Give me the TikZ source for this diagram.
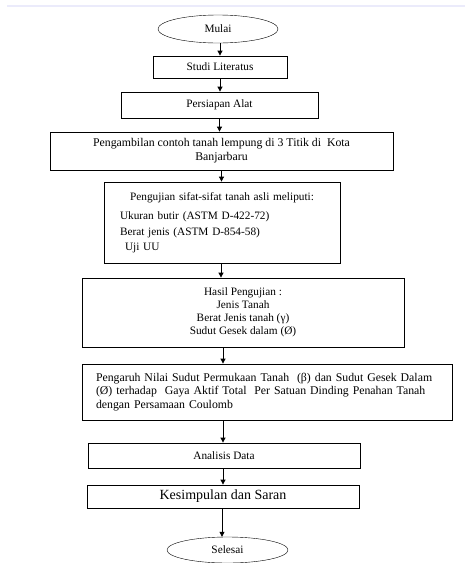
\documentclass[tikz,border=0pt]{standalone}
\usepackage{fontspec}
\setmainfont{Liberation Serif}
\usetikzlibrary{arrows.meta}
\usetikzlibrary{shapes.geometric}

\begin{document}
\begin{tikzpicture}[x=1pt, y=-1pt,
    every node/.style={draw, thick, inner sep=0pt, font=\fontsize{11.3}{13}\selectfont},
    oval/.style={ellipse, minimum width=120pt, minimum height=28pt, thin},
    box/.style={rectangle, minimum height=24pt},
    arr/.style={-{Triangle[length=5pt, width=5pt]}, thick}]
    \useasboundingbox (0,0) rectangle (465,563);
    \draw[draw=black!18!blue!8!white, line width=2pt] (7,6) -- (465,6);

    \node[oval] (mulai) at (218,29) {Mulai};
    \node[box, minimum width=134pt, minimum height=22pt] (studi) at (220,67) {Studi Literatus};
    \node[box, minimum width=197pt, minimum height=26pt] (alat) at (219.5,105) {Persiapan Alat};
    \node[box, minimum width=343pt, minimum height=38pt, align=center,
          font=\fontsize{11.8}{14}\selectfont] (ambil) at (221.5,151)
        {Pengambilan contoh tanah lempung di 3 Titik di~ Kota\\Banjarbaru};
    \node[box, text width=204pt, minimum height=81pt, inner xsep=16pt, align=left,
          font=\fontsize{11.3}{15.5}\selectfont] (uji) at (222,222.5)
        {\makebox[\linewidth]{Pengujian sifat-sifat tanah asli meliputi:}\\[4pt]
         Ukuran butir (ASTM D-422-72)\\
         Berat jenis (ASTM D-854-58)\\
         \hspace{5pt}Uji UU};
    \node[box, minimum width=322pt, minimum height=69pt, align=center] (hasil) at (243,312.5)
        {Hasil Pengujian :\\Jenis Tanah\\Berat Jenis tanah (γ)\\Sudut Gesek dalam (Ø)};
    \node[box, text width=342pt, minimum height=56pt, inner xsep=14pt, align=left,
          font=\fontsize{11.8}{13.5}\selectfont] (pengaruh) at (267,392)
        {Pengaruh Nilai Sudut Permukaan Tanah~ (β) dan Sudut Gesek Dalam\\
         (Ø) terhadap~ Gaya Aktif Total~ Per Satuan Dinding Penahan Tanah\\
         dengan Persamaan Coulomb};
    \node[box, minimum width=272pt, minimum height=25pt] (analisis) at (224,455.5) {Analisis Data};
    \node[box, minimum width=272pt, minimum height=23pt,
          font=\fontsize{14}{16}\selectfont] (simpul) at (223,496.5) {Kesimpulan dan Saran};
    \node[oval, minimum width=121pt, minimum height=26pt] (selesai) at (227.5,550) {Selesai};

    \draw[arr] ([xshift=2pt]mulai.south) -- ([xshift=2pt]mulai.south |- studi.north);
    \draw[arr] (studi.south) -- (studi.south |- alat.north);
    \draw[arr] (alat.south) -- (alat.south |- ambil.north);
    \draw[arr] (ambil.south) -- (ambil.south |- uji.north);
    \draw[arr] ([xshift=-1pt]uji.south) -- ([xshift=-1pt]uji.south |- hasil.north);
    \draw[arr] ([xshift=-20pt]hasil.south) -- ([xshift=-20pt]hasil.south |- pengaruh.north);
    \draw[arr] ([xshift=-44pt]pengaruh.south) -- ([xshift=-44pt]pengaruh.south |- analisis.north);
    \draw[arr] ([xshift=-1pt]analisis.south) -- ([xshift=-1pt]analisis.south |- simpul.north);
    \draw[arr] ([xshift=-1pt]simpul.south) -- ([xshift=-1pt]simpul.south |- selesai.north);
\end{tikzpicture}
\end{document}
